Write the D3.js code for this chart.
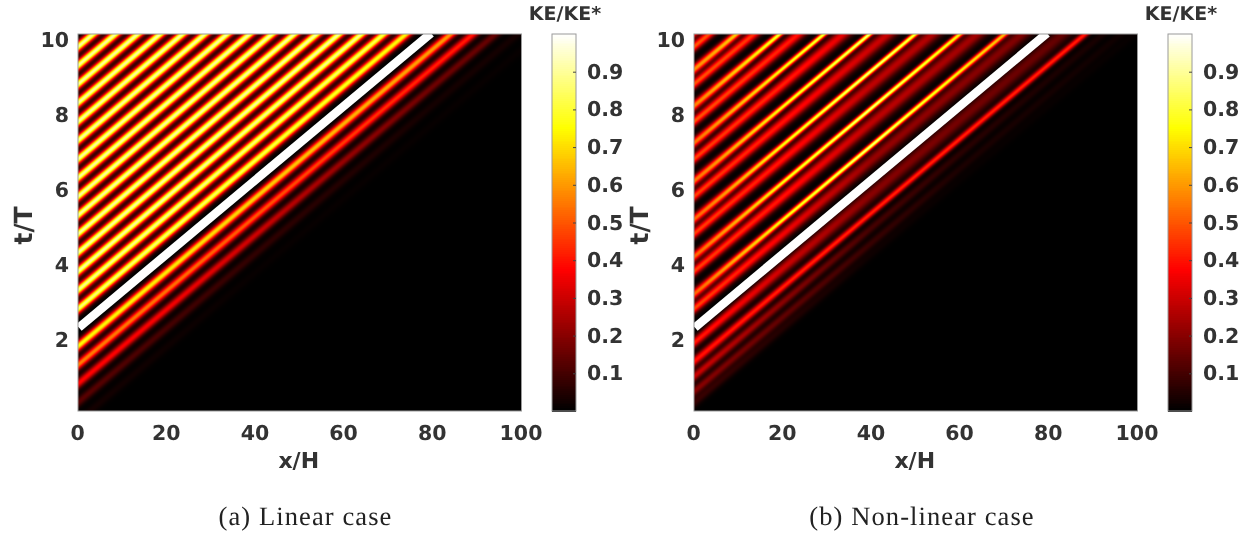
<!DOCTYPE html>
<html><head><meta charset="utf-8">
<script src="https://cdn.jsdelivr.net/npm/d3@7/dist/d3.min.js"></script>
<style>
html,body{margin:0;padding:0;background:#fff;width:1241px;height:535px;overflow:hidden}
canvas{position:absolute;display:block}
svg{position:absolute;left:0;top:0}
text{font-family:"DejaVu Sans";font-weight:bold;fill:#333;text-rendering:geometricPrecision}
.cap{font-family:"Liberation Serif";font-weight:normal;fill:#222}
</style></head><body>
<div id="chart"></div>
<script>
const xTicks=[0,20,40,60,80,100];
const tTicks=[2,4,6,8,10];
const barTicks=[0.1,0.2,0.3,0.4,0.5,0.6,0.7,0.8,0.9];
const captions=["(a) Linear case","(b) Non-linear case"];
const stations=[0,20,40,60,80,100];
const ridgeSlope=0.0992;
const frontStart=[0.2,2.31];
const frontEnd=[79.6,10.17];

const linearT0=[-0.19,0.31,0.81,1.31,1.81,2.81,3.31,3.81,4.31,4.81,5.31,5.81,6.31,6.81,7.31,7.81,8.31,8.81,9.31,9.81];
const linearPeaks=[
[.03,.02,.01,.01,.01,.01],[.13,.10,.07,.05,.03,.03],[.38,.36,.30,.22,.16,.14],[.56,.54,.50,.46,.42,.40],[.75,.72,.68,.64,.60,.58],
[.86,.85,.82,.78,.72,.70],[.88,.88,.86,.84,.80,.80],[.90,.90,.88,.88,.88,.88],[.90,.90,.90,.90,.90,.90],[.90,.90,.90,.90,.90,.90],
[.90,.90,.90,.90,.90,.90],[.90,.90,.90,.90,.90,.90],[.90,.90,.90,.90,.90,.90],[.90,.90,.90,.90,.90,.90],[.90,.90,.90,.90,.90,.90],
[.90,.90,.90,.90,.90,.90],[.90,.90,.90,.90,.90,.90],[.90,.90,.90,.90,.90,.90],[.90,.90,.90,.90,.90,.90],[.90,.90,.90,.90,.90,.90]];
const linearWidths=linearT0.map(()=>[.102,.102,.102,.102,.102,.102]);

const nonlinearT0=[0.3,0.6,1.0,1.4,1.9,2.81,3.2,3.81,4.2,4.81,5.2,5.81,6.22,6.81,7.24,7.81,8.23,8.81,9.2,9.81,10.2];
const nonlinearPeaks=[
[.08,.05,.02,.01,.01,.01],[.20,.14,.08,.04,.03,.02],[.30,.20,.10,.06,.04,.03],[.40,.42,.42,.42,.42,.40],[.42,.30,.20,.17,.15,.12],
[.48,.36,.22,.20,.18,.16],[.52,.75,.86,.72,.55,.50],[.47,.40,.28,.24,.22,.20],[.52,.75,.86,.72,.55,.50],[.47,.40,.28,.25,.23,.20],
[.52,.75,.86,.72,.55,.50],[.47,.40,.30,.26,.23,.20],[.54,.75,.86,.72,.55,.50],[.47,.42,.30,.26,.23,.20],[.54,.75,.86,.72,.55,.50],
[.50,.42,.30,.26,.23,.20],[.56,.80,.86,.72,.55,.50],[.50,.42,.30,.26,.23,.20],[.58,.78,.86,.72,.55,.50],[.50,.42,.30,.26,.23,.20],[.58,.72,.84,.72,.55,.50]];
const nonlinearWidths=[
[.10,.10,.10,.10,.10,.10],[.10,.10,.10,.10,.10,.10],[.10,.10,.10,.10,.10,.10],[.10,.085,.075,.075,.075,.075],[.10,.13,.16,.17,.17,.17],
[.10,.12,.15,.16,.16,.16],[.10,.066,.06,.065,.075,.08],[.10,.12,.15,.16,.16,.16],[.10,.066,.06,.065,.075,.08],[.10,.12,.15,.16,.16,.16],
[.10,.066,.06,.065,.075,.08],[.10,.12,.15,.16,.16,.16],[.10,.066,.06,.065,.075,.08],[.10,.12,.15,.16,.16,.16],[.10,.066,.06,.065,.075,.08],
[.10,.12,.15,.16,.16,.16],[.10,.066,.06,.065,.075,.08],[.10,.12,.15,.16,.16,.16],[.10,.066,.06,.065,.075,.08],[.10,.12,.15,.16,.16,.16],[.10,.066,.06,.065,.075,.08]];

const panels=[
 {left:78,barLeft:552,t0:linearT0,peaks:linearPeaks,widths:linearWidths,caption:captions[0],capX:305.5},
 {left:694,barLeft:1168,t0:nonlinearT0,peaks:nonlinearPeaks,widths:nonlinearWidths,caption:captions[1],capX:922}
];
const W=1241,H=535,plotTop=34,plotBottom=411,pw=443.5,barW=24,cell=1;
const hot=d3.scaleLinear().domain([0,.375,.75,1]).range(["#000000","#ff0000","#ffff00","#ffffff"]).clamp(true);
const root=d3.select("#chart");
const svg=root.append("svg").attr("width",W).attr("height",H);

panels.forEach(p=>{
  const x=d3.scaleLinear().domain([0,100]).range([p.left,p.left+pw]);
  const y=d3.scaleLinear().domain([0.08,10.15]).range([plotBottom,plotTop]);
  const canvas=root.append("canvas").attr("width",444).attr("height",plotBottom-plotTop)
    .style("left",p.left+"px").style("top",plotTop+"px");
  const ctx=canvas.node().getContext("2d");
  const peakAt=p.peaks.map(r=>d3.scaleLinear().domain(stations).range(r));
  const widthAt=p.widths.map(r=>d3.scaleLinear().domain(stations).range(r));
  for(let px=0;px<444;px+=cell){
    const xv=x.invert(p.left+px+cell/2);
    const pk=peakAt.map(f=>f(xv)), sg=widthAt.map(f=>f(xv));
    for(let py=0;py<plotBottom-plotTop;py+=cell){
      const tv=y.invert(plotTop+py+cell/2);
      let v=0;
      for(let i=0;i<p.t0.length;i++){
        const d=tv-(p.t0[i]+ridgeSlope*xv);
        if(Math.abs(d)<.7) v+=pk[i]*Math.exp(-d*d/(2*sg[i]*sg[i]));
      }
      ctx.fillStyle=hot(v);
      ctx.fillRect(px,py,cell,cell);
    }
  }
  const g=svg.append("g");
  const clipId="clip"+p.left;
  svg.append("clipPath").attr("id",clipId).append("rect").attr("x",p.left).attr("y",plotTop-1).attr("width",pw).attr("height",plotBottom-plotTop+1);
  g.append("line").attr("clip-path",`url(#${clipId})`)
    .attr("x1",x(frontStart[0])).attr("y1",y(frontStart[1]))
    .attr("x2",x(frontEnd[0])).attr("y2",y(frontEnd[1]))
    .attr("stroke","#fff").attr("stroke-width",8.6);
  g.append("rect").attr("x",p.left).attr("y",plotTop).attr("width",pw).attr("height",plotBottom-plotTop)
    .attr("fill","none").attr("stroke","#9a9a9a").attr("stroke-width",1);
  const xAxis=d3.axisBottom(x).tickValues(xTicks).tickSize(0).tickPadding(0);
  const xg=g.append("g").attr("transform",`translate(-1,${plotBottom+14})`).call(xAxis);
  xg.select(".domain").remove();
  xg.selectAll("text").attr("font-size",20.5).attr("dy","0.71em").style("font-family",'"DejaVu Sans"').style("font-weight","bold");
  const yAxis=d3.axisLeft(y).tickValues(tTicks).tickSize(0).tickPadding(0);
  const yg=g.append("g").attr("transform",`translate(${p.left-9},0.5)`).call(yAxis);
  yg.select(".domain").remove();
  yg.selectAll("text").attr("font-size",20.5).style("font-family",'"DejaVu Sans"').style("font-weight","bold");
  g.append("text").attr("x",p.left+pw/2-1).attr("y",468).attr("text-anchor","middle").attr("font-size",22).text("x/H");
  g.append("text").attr("transform",`translate(${p.left-46},${(plotTop+plotBottom)/2+3}) rotate(-90)`).attr("text-anchor","middle").attr("font-size",25).text("t/T");

  // colour bar
  const b=d3.scaleLinear().domain([0,1]).range([plotBottom,plotTop]);
  const levels=d3.range(0,1,0.005);
  g.append("g").attr("shape-rendering","crispEdges").selectAll("rect").data(levels).join("rect")
    .attr("x",p.barLeft).attr("width",barW)
    .attr("y",d=>b(d+0.005)).attr("height",d=>b(d)-b(d+0.005)+1)
    .attr("fill",d=>hot(d));
  g.append("rect").attr("x",p.barLeft).attr("y",plotTop).attr("width",barW).attr("height",plotBottom-plotTop)
    .attr("fill","none").attr("stroke","#9a9a9a").attr("stroke-width",1);
  const bAxis=d3.axisRight(b).tickValues(barTicks).tickSize(-3).tickPadding(11).tickFormat(d3.format(".1f"));
  const bg=g.append("g").attr("transform",`translate(${p.barLeft+barW},0)`).call(bAxis);
  bg.select(".domain").remove();
  bg.selectAll("line").attr("stroke","#444");
  bg.selectAll("text").attr("font-size",20.5).style("font-family",'"DejaVu Sans"').style("font-weight","bold");
  g.append("text").attr("x",p.barLeft+13).attr("y",20).attr("text-anchor","middle").attr("font-size",19).text("KE/KE*");
  g.append("text").attr("class","cap").attr("x",p.capX).attr("y",525).attr("text-anchor","middle").attr("font-size",26.5).style("letter-spacing","1.1px").text(p.caption);
});
svg.raise();
</script>
</body></html>
